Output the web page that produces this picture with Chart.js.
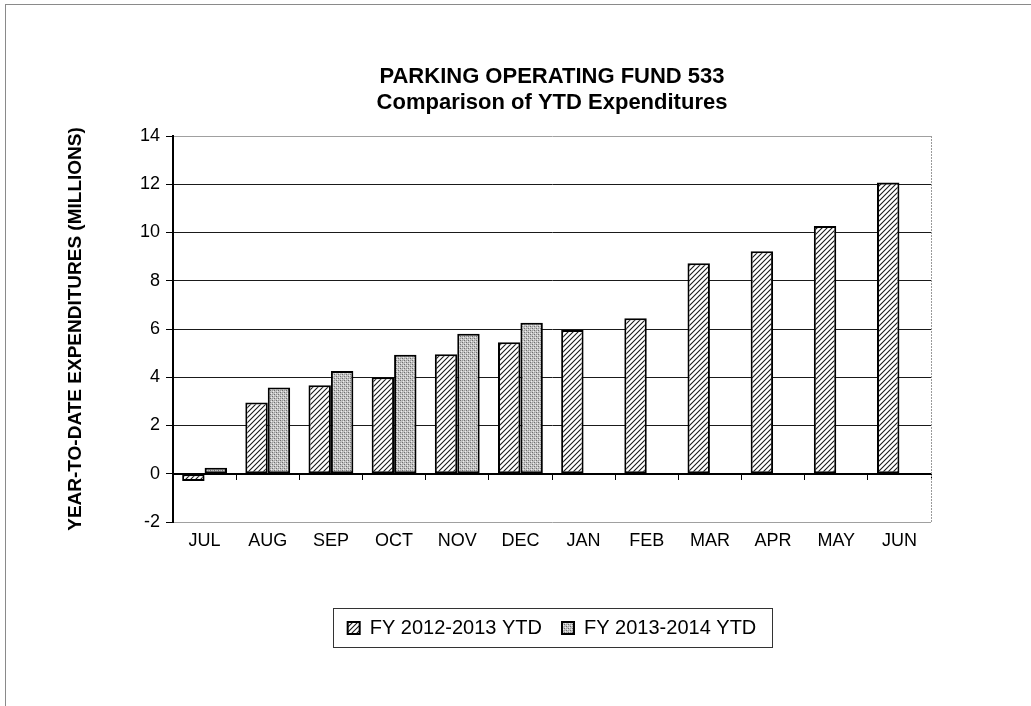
<!DOCTYPE html>
<html>
<head>
<meta charset="utf-8">
<script src="https://cdn.jsdelivr.net/npm/chart.js@4.4.1/dist/chart.umd.min.js"></script>
<style>
  html, body { margin: 0; padding: 0; background: #fff; }
  #wrap { position: relative; width: 1031px; height: 706px; overflow: hidden; }
  #frame { position: absolute; left: 5px; top: 4px; width: 1040px; height: 720px;
           border-left: 1px solid #8a8a8a; border-top: 1px solid #8a8a8a; }
  canvas { position: absolute; left: 0; top: 0; }
</style>
</head>
<body>
<div id="wrap">
  <div id="frame"></div>
  <canvas id="c" width="1031" height="706"></canvas>
</div>
<script>
// ---- data ----
const months = ['JUL','AUG','SEP','OCT','NOV','DEC','JAN','FEB','MAR','APR','MAY','JUN'];
const fy1213 = [-0.3, 2.95, 3.67, 4.0, 4.95, 5.45, 5.96, 6.45, 8.73, 9.22, 10.27, 12.07];
const fy1314 = [0.25, 3.58, 4.26, 4.93, 5.8, 6.26, null, null, null, null, null, null];
const seriesNames = ['FY 2012-2013 YTD', 'FY 2013-2014 YTD'];
const titleLines = ['PARKING OPERATING FUND 533', 'Comparison of YTD Expenditures'];
const yTitle = 'YEAR-TO-DATE EXPENDITURES (MILLIONS)';
const yMin = -2, yMax = 14, yStep = 2;

const FONT = "'Liberation Sans', Arial, Helvetica, sans-serif";

// ---- fill patterns ----
function hatchPattern() {
  const n = 5;
  const c = document.createElement('canvas');
  c.width = n; c.height = n;
  const g = c.getContext('2d');
  g.fillStyle = '#fff'; g.fillRect(0, 0, n, n);
  g.strokeStyle = '#1a1a1a'; g.lineWidth = 1.1;
  g.beginPath();
  g.moveTo(0, n); g.lineTo(n, 0);
  g.moveTo(-1, 1); g.lineTo(1, -1);
  g.moveTo(n - 1, n + 1); g.lineTo(n + 1, n - 1);
  g.stroke();
  return g.createPattern(c, 'repeat');
}
function stipplePattern() {
  const c = document.createElement('canvas');
  c.width = 4; c.height = 4;
  const g = c.getContext('2d');
  g.fillStyle = '#c4c4c4'; g.fillRect(0, 0, 4, 4);
  g.fillStyle = '#6e6e6e';
  g.fillRect(0, 0, 1, 1); g.fillRect(2, 2, 1, 1);
  g.fillStyle = '#9a9a9a';
  g.fillRect(2, 0, 1, 1); g.fillRect(0, 2, 1, 1);
  g.fillStyle = '#ececec';
  g.fillRect(1, 3, 1, 1); g.fillRect(3, 1, 1, 1);
  return g.createPattern(c, 'repeat');
}

// ---- helper plugins ----
const plotFrame = {
  id: 'plotFrame',
  beforeDatasetsDraw(chart) {
    const a = chart.chartArea, ctx = chart.ctx;
    ctx.save();
    ctx.strokeStyle = '#9a9a9a';
    ctx.lineWidth = 1;
    ctx.setLineDash([2, 1]);
    ctx.beginPath();
    ctx.moveTo(Math.round(a.right) + 0.5, a.top);
    ctx.lineTo(Math.round(a.right) + 0.5, a.bottom);
    ctx.stroke();
    ctx.restore();
  }
};
const legendBox = {
  id: 'legendBox',
  afterDraw(chart) {
    const lg = chart.legend;
    if (!lg || !lg.legendHitBoxes || !lg.legendHitBoxes.length) return;
    let l = Infinity, r = -Infinity, t = Infinity, b = -Infinity;
    lg.legendHitBoxes.forEach(h => {
      l = Math.min(l, h.left); r = Math.max(r, h.left + h.width);
      t = Math.min(t, h.top); b = Math.max(b, h.top + h.height);
    });
    const ctx = chart.ctx;
    ctx.save();
    ctx.strokeStyle = '#333';
    ctx.lineWidth = 1;
    ctx.strokeRect(Math.round(l - 15) + 0.5, Math.round(t - 10) + 0.5,
                   Math.round(r - l + 30), Math.round(b - t + 19));
    ctx.restore();
  }
};

new Chart(document.getElementById('c'), {
  type: 'bar',
  data: {
    labels: months,
    datasets: [
      { label: seriesNames[0], data: fy1213, backgroundColor: hatchPattern(),
        borderColor: '#000', borderWidth: 2, borderSkipped: false },
      { label: seriesNames[1], data: fy1314, backgroundColor: stipplePattern(),
        borderColor: '#000', borderWidth: 2, borderSkipped: false }
    ]
  },
  plugins: [plotFrame, legendBox],
  options: {
    responsive: false,
    animation: false,
    devicePixelRatio: 1,
    layout: { padding: { left: 60, right: 100, top: 0, bottom: 58 } },
    datasets: { bar: { categoryPercentage: 0.71, barPercentage: 1.0 } },
    plugins: {
      tooltip: { enabled: false },
      title: {
        display: true, text: titleLines, fullSize: false, color: '#000',
        font: { family: FONT, size: 22, weight: 'bold', lineHeight: 1.2 },
        padding: { top: 63.8, bottom: 19.4 }
      },
      legend: {
        display: true, position: 'bottom', fullSize: false,
        labels: {
          color: '#000', boxWidth: 12, boxHeight: 12, padding: 20,
          font: { family: FONT, size: 20 }
        }
      }
    },
    scales: {
      x: {
        type: 'category',
        position: 'bottom',
        offset: true,
        grid: { display: false, drawTicks: false, offset: true },
        border: { display: false },
        ticks: { color: '#000', padding: 8, font: { family: FONT, size: 18 }, maxRotation: 0 },
        afterFit(s) { s.height = 76; }
      },
      x2: {
        type: 'category',
        position: { y: 0 },
        offset: true,
        grid: { display: true, drawOnChartArea: false, drawTicks: true, tickLength: 5,
                offset: true, color: '#000', lineWidth: 1 },
        border: { display: true, color: '#000', width: 2 },
        ticks: { display: false }
      },
      y: {
        type: 'linear',
        position: 'left',
        min: yMin, max: yMax,
        ticks: { stepSize: yStep, color: '#000', padding: 6, font: { family: FONT, size: 18 } },
        grid: {
          color: ctx => (ctx.tick && (ctx.tick.value === yMax || ctx.tick.value === yMin)) ? '#a0a0a0' : '#1a1a1a',
          tickColor: '#000', tickLength: 7, lineWidth: 1
        },
        border: { display: true, color: '#000', width: 2 },
        title: {
          display: true, text: yTitle, color: '#000',
          font: { family: FONT, size: 19, weight: 'bold' },
          padding: { top: 4.6, bottom: 0 }
        },
        afterFit(s) { s.width = 113; }
      }
    }
  }
});
</script>
</body>
</html>
